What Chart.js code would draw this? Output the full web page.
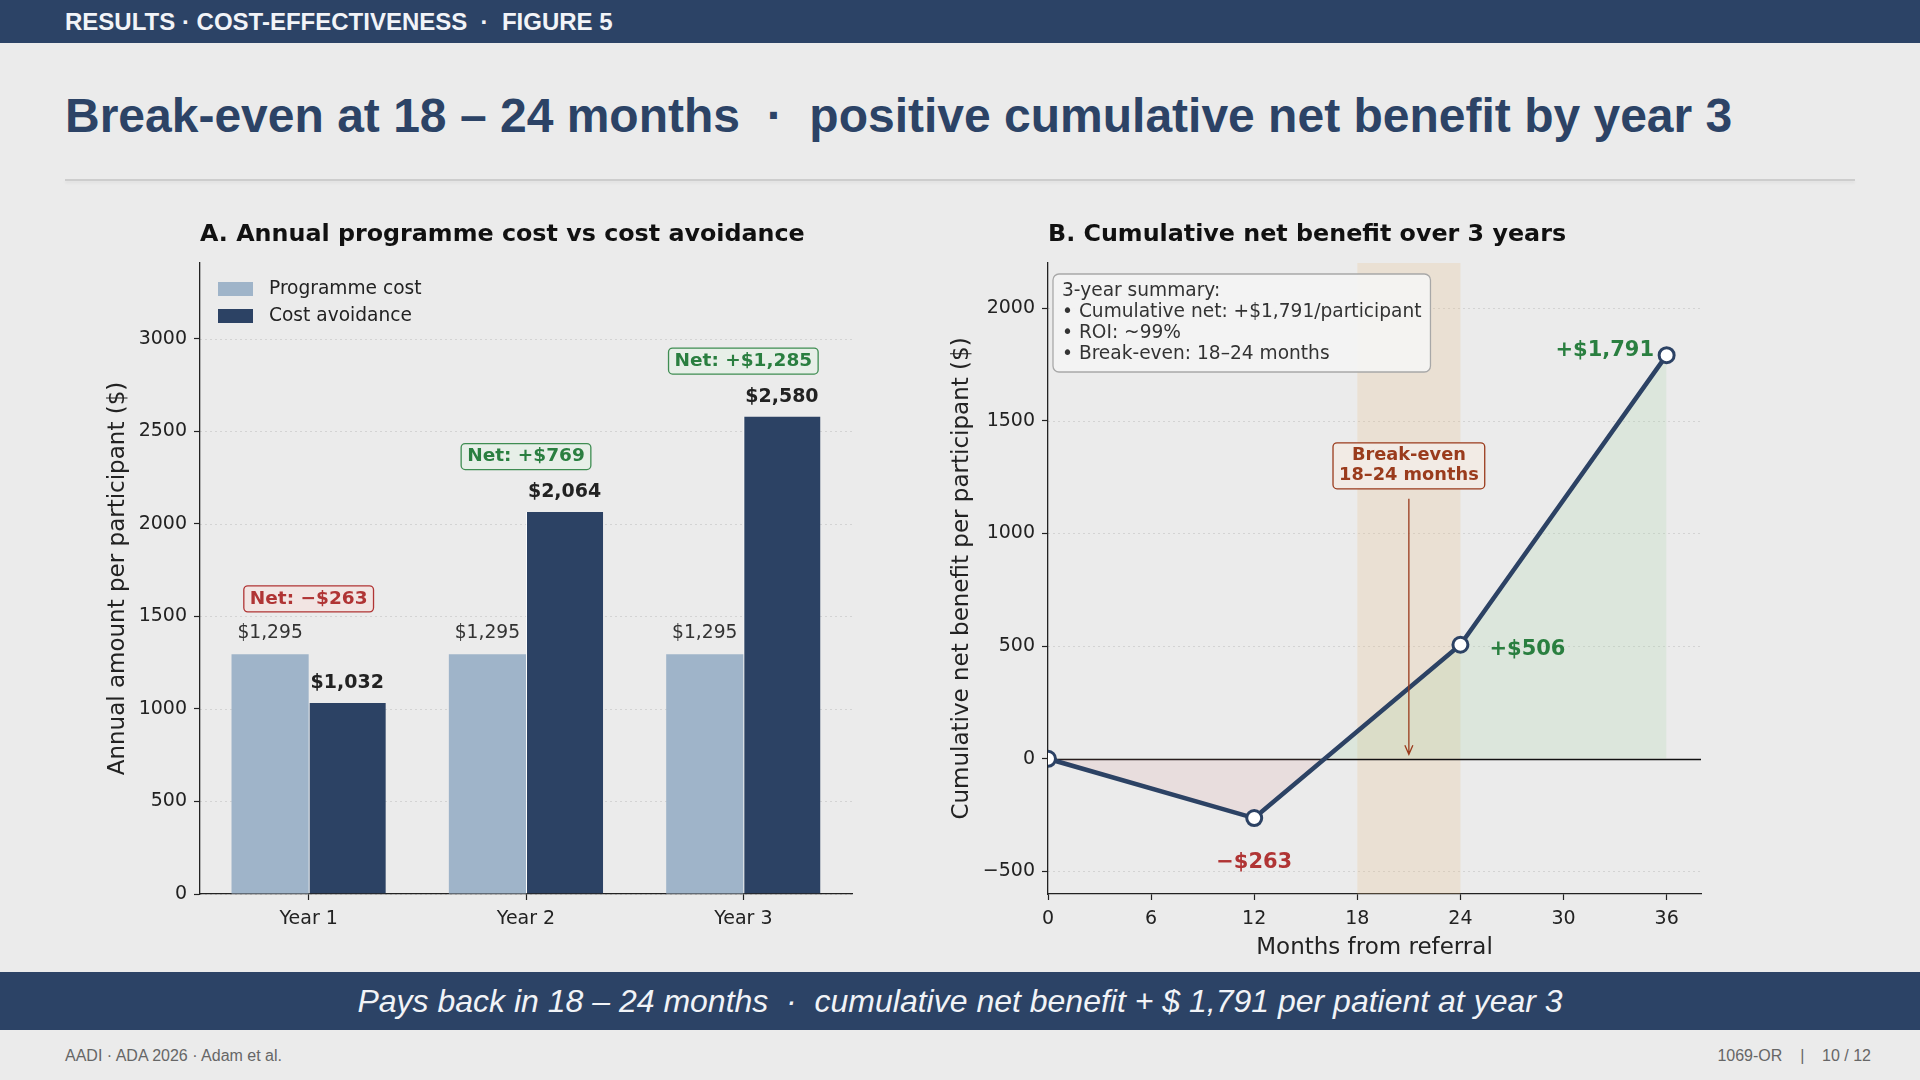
<!DOCTYPE html>
<html>
<head>
<meta charset="utf-8">
<script src="https://cdn.jsdelivr.net/npm/chart.js@4.4.1/dist/chart.umd.min.js"></script>
<style>
  html, body { margin: 0; padding: 0; }
  body { width: 1920px; height: 1080px; background: #ebebeb; position: relative; overflow: hidden;
         font-family: "Liberation Sans", Arial, sans-serif; }
  .header { position: absolute; left: 0; top: 0; width: 1920px; height: 43px; background: #2c4366; }
  .header span { position: absolute; left: 65px; top: 0; line-height: 44px; font-size: 24px; font-weight: bold;
                 color: #f2f4f8; white-space: pre; }
  .title { position: absolute; left: 65px; top: 88px; line-height: 56px; font-size: 48px; font-weight: bold;
           color: #2c4366; white-space: pre; }
  .rule { position: absolute; left: 65px; top: 179px; width: 1790px; height: 2px; background: #cdcdcd;
          box-shadow: 0 2px 3px rgba(0,0,0,0.06); }
  .panel { position: absolute; top: 210px; height: 753px; }
  .banner { position: absolute; left: 0; top: 972px; width: 1920px; height: 58px; background: #2c4366;
            color: #f1f3f7; font-style: italic; font-size: 32px; line-height: 58px; text-align: center; white-space: pre; }
  .foot { position: absolute; top: 1047px; font-size: 16px; color: #666; white-space: pre; }
</style>
</head>
<body>
<div class="header"><span>RESULTS · COST-EFFECTIVENESS  ·  FIGURE 5</span></div>
<div class="title">Break-even at 18 – 24 months  ·  positive cumulative net benefit by year 3</div>
<div class="rule"></div>

<div class="panel" style="left:100px; width:770px;"><canvas id="annualChart"></canvas></div>
<div class="panel" style="left:940px; width:790px;"><canvas id="cumulativeChart"></canvas></div>

<div class="banner">Pays back in 18 – 24 months  ·  cumulative net benefit + $ 1,791 per patient at year 3</div>
<div class="foot" style="left:65px;">AADI · ADA 2026 · Adam et al.</div>
<div class="foot" style="right:49px;">1069-OR    |    10 / 12</div>

<script>
// panel A data
const years = ['Year 1', 'Year 2', 'Year 3'];
const programmeCost = [1295, 1295, 1295];
const costAvoidance = [1032, 2064, 2580];
const netBenefit = [-263, 769, 1285];
const annualTicks = [0, 500, 1000, 1500, 2000, 2500, 3000];

// panel B data
const months = [0, 12, 24, 36];
const cumulativeNet = [0, -263, 506, 1791];
const monthTicks = [0, 6, 12, 18, 24, 30, 36];
const cumulativeTicks = [-500, 0, 500, 1000, 1500, 2000];
const breakEvenBand = [18, 24];
const summaryLines = ['3-year summary:', '• Cumulative net: +$1,791/participant', '• ROI: ~99%', '• Break-even: 18–24 months'];

const NAVY = '#2c4264';
const LIGHT = '#9fb4c9';
const RED = '#b03434';
const GREEN = '#2a7f40';
const BROWN = '#9a3b1c';
const INK = '#222222';
const FONT = "'DejaVu Sans', sans-serif";

Chart.defaults.font.family = FONT;
Chart.defaults.color = INK;

function money(v) {
    return '$' + Math.abs(v).toLocaleString('en-US');
}
function signedMoney(v) {
    return (v < 0 ? '\u2212' : '+') + money(v);
}
function plainTick(v) {
    return String(v).replace('-', '\u2212');
}

function roundRect(ctx, x, y, w, h, r) {
    ctx.beginPath();
    ctx.moveTo(x + r, y);
    ctx.arcTo(x + w, y, x + w, y + h, r);
    ctx.arcTo(x + w, y + h, x, y + h, r);
    ctx.arcTo(x, y + h, x, y, r);
    ctx.arcTo(x, y, x + w, y, r);
    ctx.closePath();
}

// boxed label centred on (cx, cy)
function tagBox(ctx, lines, cx, cy, o) {
    ctx.save();
    ctx.font = o.font;
    const w = Math.max(...lines.map(t => ctx.measureText(t).width)) + o.padX * 2;
    const h = lines.length * o.lineH + o.padY * 2;
    roundRect(ctx, cx - w / 2, cy - h / 2, w, h, 4);
    ctx.fillStyle = o.fill;
    ctx.fill();
    ctx.lineWidth = 1.3;
    ctx.strokeStyle = o.stroke;
    ctx.stroke();
    ctx.fillStyle = o.color;
    ctx.textAlign = 'center';
    ctx.textBaseline = 'middle';
    lines.forEach((t, i) => {
        ctx.fillText(t, cx, cy - h / 2 + o.padY + o.lineH * (i + 0.5));
    });
    ctx.restore();
    return { top: cy - h / 2, bottom: cy + h / 2 };
}

function dottedGrid(chart, ticks) {
    const { ctx, chartArea } = chart;
    const y = chart.scales.y;
    ctx.save();
    ctx.strokeStyle = 'rgba(0,0,0,0.10)';
    ctx.lineWidth = 1;
    ctx.setLineDash([2, 3]);
    ticks.forEach(v => {
        const py = Math.round(y.getPixelForValue(v)) + 0.5;
        ctx.beginPath();
        ctx.moveTo(chartArea.left, py);
        ctx.lineTo(chartArea.right, py);
        ctx.stroke();
    });
    ctx.restore();
}

function axisOptions(extra) {
    return Object.assign({
        grid: { drawOnChartArea: false, offset: false, tickLength: 6, tickColor: INK, tickWidth: 1.2 },
        border: { color: INK, width: 1.3 },
        ticks: { font: { size: 19 }, color: INK, padding: 7 }
    }, extra);
}

function axisTitle(text, padding) {
    return { display: true, text: text, font: { size: 23 }, color: INK, padding: padding };
}

function createAnnualChart() {
    const ctx = document.getElementById('annualChart');
    if (!ctx) return;

    const annualPlugin = {
        id: 'annualDecor',
        beforeDatasetsDraw(chart) {
            dottedGrid(chart, annualTicks);
        },
        afterDatasetsDraw(chart) {
            const c = chart.ctx;
            const area = chart.chartArea;
            const yScale = chart.scales.y;
            const progBars = chart.getDatasetMeta(0).data;
            const avoidBars = chart.getDatasetMeta(1).data;

            c.save();
            c.textAlign = 'center';
            c.textBaseline = 'middle';
            progBars.forEach((bar, i) => {
                c.font = '18.7px ' + FONT;
                c.fillStyle = '#333';
                c.fillText(money(programmeCost[i]), bar.x, bar.y - 21);
            });
            avoidBars.forEach((bar, i) => {
                c.font = 'bold 19px ' + FONT;
                c.fillStyle = '#222';
                c.fillText(money(costAvoidance[i]), bar.x, bar.y - 20);
            });
            c.restore();

            netBenefit.forEach((n, i) => {
                const cx = chart.scales.x.getPixelForValue(i);
                const top = Math.max(programmeCost[i], costAvoidance[i]) + 300;
                const neg = n < 0;
                tagBox(c, ['Net: ' + signedMoney(n)], cx, yScale.getPixelForValue(top), {
                    font: 'bold 18.5px ' + FONT, padX: 6, padY: 3, lineH: 20,
                    fill: neg ? '#f2e5e3' : '#e7efe8', stroke: neg ? RED : '#3f8d52', color: neg ? RED : GREEN
                });
            });

            // legend
            c.save();
            c.font = '18.6px ' + FONT;
            c.textBaseline = 'middle';
            chart.data.datasets.forEach((ds, i) => {
                const y = area.top + 26 + i * 27;
                c.fillStyle = ds.backgroundColor;
                c.fillRect(area.left + 18, y - 7, 35, 14);
                c.fillStyle = INK;
                c.fillText(ds.label, area.left + 69, y);
            });
            // panel title
            c.font = 'bold 23.8px ' + FONT;
            c.fillStyle = '#111';
            c.fillText('A. Annual programme cost vs cost avoidance', area.left, 25);
            c.restore();
        }
    };

    new Chart(ctx, {
        type: 'bar',
        data: {
            labels: years,
            datasets: [{
                label: 'Programme cost',
                data: programmeCost,
                backgroundColor: LIGHT,
                barPercentage: 1,
                categoryPercentage: 0.71
            }, {
                label: 'Cost avoidance',
                data: costAvoidance,
                backgroundColor: NAVY,
                borderColor: 'rgba(255,255,255,0.8)',
                borderWidth: { left: 1, right: 0, top: 0, bottom: 0 },
                borderSkipped: false,
                barPercentage: 1,
                categoryPercentage: 0.71
            }]
        },
        options: {
            responsive: true,
            maintainAspectRatio: false,
            animation: false,
            layout: { padding: { top: 53, right: 18, left: 0, bottom: 0 } },
            plugins: { legend: { display: false }, tooltip: { enabled: false } },
            scales: {
                x: axisOptions({
                    afterFit: s => { s.height = 69; },
                    ticks: { font: { size: 19 }, color: INK, padding: 8 }
                }),
                y: axisOptions({
                    min: 0,
                    max: 3410,
                    afterBuildTicks: s => { s.ticks = annualTicks.map(v => ({ value: v })); },
                    afterFit: s => { s.width = 100; },
                    ticks: { font: { size: 19 }, color: INK, padding: 7, callback: plainTick },
                    title: axisTitle('Annual amount per participant ($)', { top: 4, bottom: 0 })
                })
            }
        },
        plugins: [annualPlugin]
    });
}

function createCumulativeChart() {
    const ctx = document.getElementById('cumulativeChart');
    if (!ctx) return;

    const cumulativePlugin = {
        id: 'cumulativeDecor',
        beforeDatasetsDraw(chart) {
            const c = chart.ctx;
            const area = chart.chartArea;
            const x = chart.scales.x;
            const y = chart.scales.y;
            dottedGrid(chart, cumulativeTicks);

            const x0 = x.getPixelForValue(breakEvenBand[0]);
            const x1 = x.getPixelForValue(breakEvenBand[1]);
            c.save();
            c.fillStyle = 'rgba(232,188,128,0.22)';
            c.fillRect(x0, area.top, x1 - x0, area.bottom - area.top);

            const zy = Math.round(y.getPixelForValue(0)) + 0.5;
            c.strokeStyle = '#111';
            c.lineWidth = 1.4;
            c.beginPath();
            c.moveTo(area.left, zy);
            c.lineTo(area.right, zy);
            c.stroke();
            c.restore();
        },
        afterDatasetsDraw(chart) {
            const c = chart.ctx;
            const area = chart.chartArea;
            const x = chart.scales.x;
            const y = chart.scales.y;

            c.save();
            c.textAlign = 'center';
            c.textBaseline = 'middle';
            c.font = 'bold 21px ' + FONT;
            c.fillStyle = RED;
            c.fillText(signedMoney(cumulativeNet[1]), x.getPixelForValue(12), y.getPixelForValue(-462));
            c.fillStyle = GREEN;
            c.fillText(signedMoney(cumulativeNet[2]), x.getPixelForValue(27.9), y.getPixelForValue(484));
            c.fillText(signedMoney(cumulativeNet[3]), x.getPixelForValue(32.4), y.getPixelForValue(1810));
            c.restore();

            // break-even callout with arrow
            const bx = x.getPixelForValue((breakEvenBand[0] + breakEvenBand[1]) / 2);
            const box = tagBox(c, ['Break-even', '18–24 months'], bx, y.getPixelForValue(1300), {
                font: 'bold 17.8px ' + FONT, padX: 6, padY: 3, lineH: 20,
                fill: '#f2ebe5', stroke: BROWN, color: BROWN
            });
            const tipY = y.getPixelForValue(20);
            c.save();
            c.strokeStyle = BROWN;
            c.lineWidth = 1.3;
            c.beginPath();
            c.moveTo(bx, box.bottom + 10);
            c.lineTo(bx, tipY);
            c.moveTo(bx - 4, tipY - 9);
            c.lineTo(bx, tipY);
            c.lineTo(bx + 4, tipY - 9);
            c.stroke();
            c.restore();

            // summary box
            c.save();
            c.font = '18.6px ' + FONT;
            const bw = Math.max(...summaryLines.map(t => c.measureText(t).width)) + 18;
            const bh = summaryLines.length * 21 + 14;
            roundRect(c, area.left + 5, area.top + 11, bw, bh, 6);
            c.fillStyle = 'rgba(244,244,244,0.9)';
            c.fill();
            c.strokeStyle = '#a8a8a8';
            c.lineWidth = 1.3;
            c.stroke();
            c.fillStyle = '#333';
            c.textBaseline = 'middle';
            summaryLines.forEach((t, i) => {
                c.fillText(t, area.left + 14, area.top + 11 + 7 + 21 * (i + 0.5));
            });
            // panel title
            c.font = 'bold 23.8px ' + FONT;
            c.fillStyle = '#111';
            c.fillText('B. Cumulative net benefit over 3 years', area.left, 25);
            c.restore();
        }
    };

    new Chart(ctx, {
        type: 'line',
        data: {
            datasets: [{
                label: 'Cumulative net benefit',
                data: months.map((m, i) => ({ x: m, y: cumulativeNet[i] })),
                borderColor: NAVY,
                borderWidth: 4.5,
                tension: 0,
                pointRadius: 7.5,
                pointBorderWidth: 3,
                pointBackgroundColor: '#ffffff',
                pointBorderColor: NAVY,
                fill: {
                    target: { value: 0 },
                    above: 'rgba(140,205,140,0.16)',
                    below: 'rgba(210,120,120,0.12)'
                }
            }]
        },
        options: {
            responsive: true,
            maintainAspectRatio: false,
            animation: false,
            layout: { padding: { top: 53, right: 29, left: 0, bottom: 0 } },
            plugins: { legend: { display: false }, tooltip: { enabled: false } },
            scales: {
                x: axisOptions({
                    type: 'linear',
                    min: 0,
                    max: 38,
                    afterBuildTicks: s => { s.ticks = monthTicks.map(v => ({ value: v })); },
                    afterFit: s => { s.height = 69; },
                    ticks: { font: { size: 19 }, color: INK, padding: 8, callback: plainTick },
                    title: axisTitle('Months from referral', { top: 0, bottom: 1.5 })
                }),
                y: axisOptions({
                    min: -600,
                    max: 2200,
                    afterBuildTicks: s => { s.ticks = cumulativeTicks.map(v => ({ value: v })); },
                    afterFit: s => { s.width = 108; },
                    ticks: { font: { size: 19 }, color: INK, padding: 7, callback: plainTick },
                    title: axisTitle('Cumulative net benefit per participant ($)', { top: 8, bottom: 0 })
                })
            }
        },
        plugins: [cumulativePlugin]
    });
}

document.addEventListener('DOMContentLoaded', () => {
    createAnnualChart();
    createCumulativeChart();
});
</script>
</body>
</html>
